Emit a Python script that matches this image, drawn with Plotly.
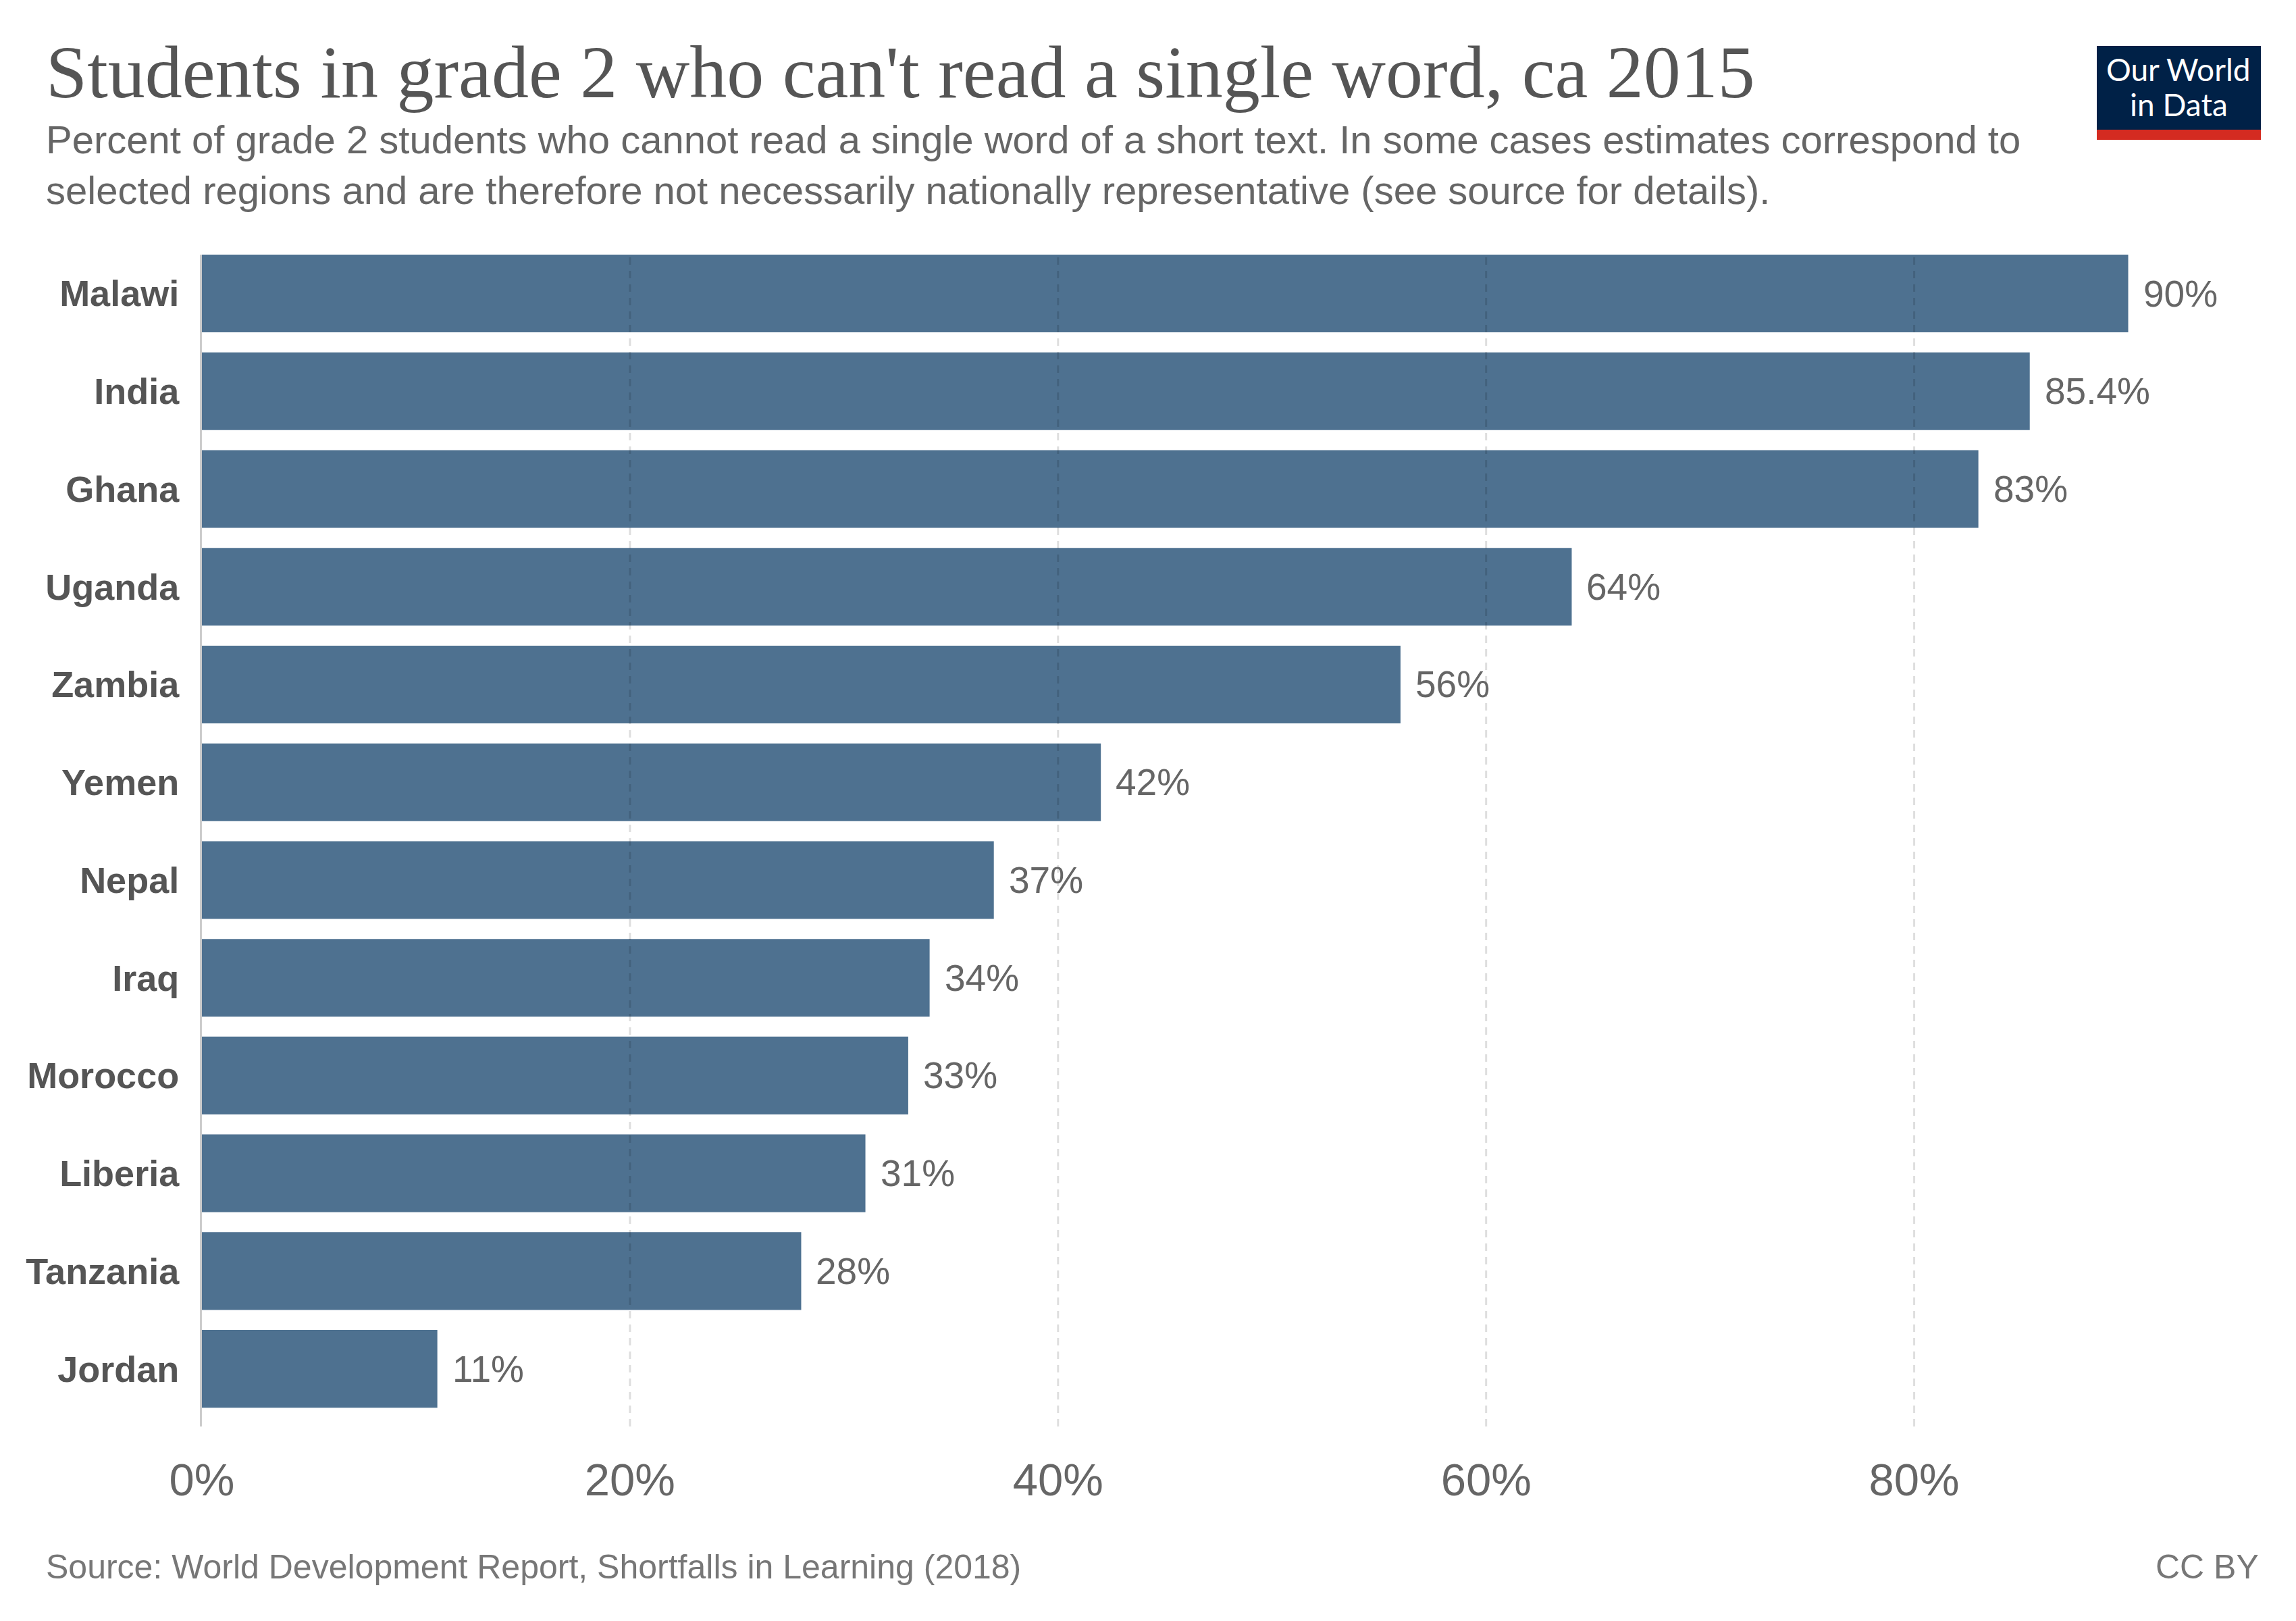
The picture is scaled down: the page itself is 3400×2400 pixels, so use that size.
import plotly.graph_objects as go

# data
countries = ["Malawi", "India", "Ghana", "Uganda", "Zambia", "Yemen",
             "Nepal", "Iraq", "Morocco", "Liberia", "Tanzania", "Jordan"]
values = [90, 85.4, 83, 64, 56, 42, 37, 34, 33, 31, 28, 11]
labels = ["90%", "85.4%", "83%", "64%", "56%", "42%",
          "37%", "34%", "33%", "31%", "28%", "11%"]
x_ticks = [0, 20, 40, 60, 80]
x_ticktext = ["0%", "20%", "40%", "60%", "80%"]

title = "Students in grade 2 who can't read a single word, ca 2015"
subtitle = ("Percent of grade 2 students who cannot read a single word of a short text. "
            "In some cases estimates correspond to<br>selected regions and are therefore "
            "not necessarily nationally representative (see source for details).")
source = "Source: World Development Report, Shortfalls in Learning (2018)"

W, H = 3400, 2400
L, R, T, B = 291, 98, 369, 296
pw, ph = W - L - R, H - T - B


def px(x):
    return (x - L) / pw


def py(y):
    return (H - B - y) / ph


SANS = "Liberation Sans, Arial, sans-serif"
bar_color = "#4e7190"

fig = go.Figure()
fig.add_trace(go.Bar(
    x=values, y=countries, orientation="h",
    marker=dict(color=bar_color, line=dict(width=0)),
    hoverinfo="x+y",
))

ann = []
for c, v, t in zip(countries, values, labels):
    ann.append(dict(x=v, y=c, xref="x", yref="y", text=t, showarrow=False,
                    xanchor="left", yanchor="middle", xshift=20,
                    font=dict(family=SANS, size=55, color="#666666")))

# title / subtitle / footer
ann.append(dict(x=px(58), y=py(36), xref="paper", yref="paper", text=title,
                showarrow=False, xanchor="left", yanchor="top",
                font=dict(family="Liberation Serif, Times New Roman, serif", size=110, color="#555555")))
ann.append(dict(x=px(58), y=py(164), xref="paper", yref="paper", text=subtitle,
                showarrow=False, xanchor="left", yanchor="top", align="left",
                font=dict(family=SANS, size=58, color="#666666")))
ann.append(dict(x=px(58), y=py(2342), xref="paper", yref="paper", text=source,
                showarrow=False, xanchor="left", yanchor="bottom",
                font=dict(family=SANS, size=50, color="#777777")))
ann.append(dict(x=px(3339), y=py(2342), xref="paper", yref="paper", text="CC BY",
                showarrow=False, xanchor="right", yanchor="bottom",
                font=dict(family=SANS, size=50, color="#777777")))

# logo text
logo_font = dict(family="Lato, sans-serif", size=46, color="white")
ann.append(dict(x=px(3218), y=py(124), xref="paper", yref="paper", text="Our World",
                showarrow=False, xanchor="center", yanchor="bottom", font=logo_font))
ann.append(dict(x=px(3218), y=py(176), xref="paper", yref="paper", text="in Data",
                showarrow=False, xanchor="center", yanchor="bottom", font=logo_font))

shapes = []
# dashed grid lines drawn above the bars
for t in x_ticks[1:]:
    shapes.append(dict(type="line", xref="x", yref="paper", x0=t, x1=t, y0=0, y1=1,
                       layer="above",
                       line=dict(color="rgba(0,0,0,0.13)", width=3, dash="11px,9px")))
# logo boxes
shapes.append(dict(type="rect", xref="paper", yref="paper",
                   x0=px(3097), x1=px(3340), y0=py(184), y1=py(60),
                   fillcolor="#002147", line=dict(width=0), layer="below"))
shapes.append(dict(type="rect", xref="paper", yref="paper",
                   x0=px(3097), x1=px(3340), y0=py(199), y1=py(184),
                   fillcolor="#d42b21", line=dict(width=0), layer="below"))

fig.update_layout(
    width=W, height=H,
    margin=dict(l=L, r=R, t=T, b=B, pad=0),
    paper_bgcolor="white", plot_bgcolor="white",
    showlegend=False,
    bargap=0.205,
    annotations=ann,
    shapes=shapes,
    xaxis=dict(range=[0, 95], tickvals=x_ticks, ticktext=x_ticktext,
               showgrid=False, zeroline=False, showline=False, ticks="",
               ticklabelstandoff=34,
               tickfont=dict(family=SANS, size=67, color="#666666")),
    yaxis=dict(type="category", categoryorder="array", categoryarray=countries,
               range=[11.59, -0.3975], showgrid=False, zeroline=False,
               showline=True, linecolor="#cccccc", linewidth=3, ticks="",
               ticklabelstandoff=20,
               tickfont=dict(family=SANS, size=54, color="#555555", weight="bold")),
)

fig.write_html("out.html")
